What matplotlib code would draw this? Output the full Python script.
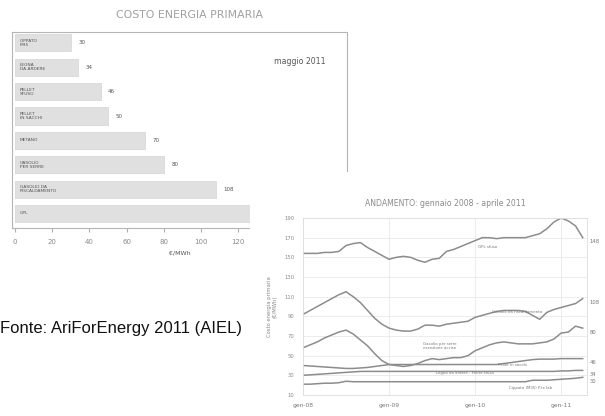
import numpy as np
import matplotlib
matplotlib.use("Agg")
import matplotlib.pyplot as plt
from matplotlib.patches import Rectangle

# ---------------- data: left bar chart (maggio 2011) ----------------
fuels = ["CIPPATO\nM35", "LEGNA\nDA ARDERE", "PELLET\nSFUSO", "PELLET\nIN SACCHI",
         "METANO", "GASOLIO\nPER SERRE", "GASOLIO DA\nRISCALDAMENTO", "GPL"]
costs = [30, 34, 46, 50, 70, 80, 108, 148]
bar_xticks = [0, 20, 40, 60, 80, 100, 120, 140, 160]

# ---------------- data: right line chart (gen 2008 - apr 2011, monthly) ----------------
months = np.arange(40)
month_ticks = [0, 12, 24, 36]
month_labels = ["gen-08", "gen-09", "gen-10", "gen-11"]

gpl = [154, 154, 154, 155, 155, 156, 162, 164, 165, 160, 156, 152,
       148, 150, 151, 150, 147, 145, 148, 149, 156, 158, 161, 164,
       167, 170, 170, 169, 170, 170, 170, 170, 172, 174, 179, 186,
       190, 187, 182, 170]
gas_risc = [92, 96, 100, 104, 108, 112, 115, 110, 104, 96, 88, 82,
            78, 76, 75, 75, 77, 81, 81, 80, 82, 83, 84, 85,
            89, 91, 93, 95, 96, 96, 96, 95, 91, 87, 94, 97,
            99, 101, 103, 108]
gas_serre = [58, 61, 64, 68, 71, 74, 76, 72, 66, 60, 52, 45,
             41, 40, 39, 40, 42, 45, 47, 46, 47, 48, 48, 50,
             55, 58, 61, 63, 64, 63, 62, 62, 62, 63, 64, 67,
             73, 74, 80, 78]
pellet = [40, 39.5, 39, 38.5, 38, 37.5, 37, 37, 37.5, 38, 39, 40,
          41, 41, 41, 41, 41, 41, 41, 41, 41, 41, 41, 41,
          41, 41, 41, 41, 42, 43, 44, 45, 46, 46.5, 46.5, 46.5,
          47, 47, 47, 47]
legna = [30, 30.5, 31, 31.5, 32, 32.5, 33, 33.5, 34, 34, 34, 34,
         34, 34, 34, 34, 34, 34, 34, 34, 34, 34, 34, 34,
         34, 34, 34, 34, 34, 34, 34, 34, 34, 34, 34, 34,
         34.5, 34.5, 35, 35]
cippato = [21, 21, 21.5, 22, 22, 22.5, 24, 23.5, 23.5, 23.5, 23.5, 23.5,
           23.5, 23.5, 23.5, 23.5, 23.5, 23.5, 23.5, 23.5, 23.5, 23.5, 23.5, 23.5,
           23.5, 23.5, 23.5, 23.5, 23.5, 23.5, 23.5, 23.5, 25, 25, 25, 25.5,
           26, 26.5, 27, 28]
series = [gpl, gas_risc, gas_serre, pellet, legna, cippato]
end_labels = ["148", "108", "80", "46", "34", "30"]
y_ticks = [10, 30, 50, 70, 90, 110, 130, 150, 170, 190]

W, H = 605, 416
fig = plt.figure(figsize=(W / 100, H / 100), dpi=100)
fig.patch.set_facecolor("white")

def fx(px):
    return px / W

def fy(py):
    return 1 - py / H

# ---------------- left chart ----------------
axL = fig.add_axes([fx(12), fy(228), fx(347) - fx(12), fy(32) - fy(228)], zorder=0)
ypos = np.arange(len(fuels))
axL.barh(ypos, costs, height=0.7, color="#e0e0e0", edgecolor="#d4d4d4", linewidth=0.5)
axL.set_xlim(-1.6, 178.5)
axL.set_ylim(7.6, -0.45)
axL.set_yticks([])
axL.set_xticks(bar_xticks)
axL.set_xticklabels([str(v) for v in bar_xticks], fontsize=5, color="#8a8a8a")
axL.tick_params(axis="x", length=3, color="#b0b0b0", pad=5)
for s in axL.spines.values():
    s.set_color("#b5b5b5")
    s.set_linewidth(0.8)
for y, c, name in zip(ypos, costs, fuels):
    axL.text(2.5, y, name, fontsize=3.2, color="#555555", va="center", ha="left",
             linespacing=1.1)
    axL.text(c + 4, y, str(c), fontsize=4, color="#555555", va="center", ha="left")
axL.set_xlabel("€/MWh", fontsize=4.5, color="#555555", labelpad=4)
axL.text(0.86, 0.85, "maggio 2011", transform=axL.transAxes, fontsize=5.6,
         color="#555555", ha="center", va="center")
fig.text(fx(190), fy(15), "COSTO ENERGIA PRIMARIA", fontsize=7.8, color="#a0a0a0",
         ha="center", va="center")

# ---------------- overlay white panel ----------------
fig.patches.append(Rectangle((fx(250), 0), 1 - fx(250), fy(172), transform=fig.transFigure,
                             facecolor="white", edgecolor="none", zorder=1))

# ---------------- right chart ----------------
axR = fig.add_axes([fx(303), fy(395), fx(587) - fx(303), fy(218) - fy(395)], zorder=2)
axR.set_facecolor("white")
for s_ in series:
    axR.plot(months, s_, color="#8c8c8c", linewidth=1.1)
axR.set_xlim(0, 39.6)
axR.set_ylim(10, 190)
axR.set_yticks(y_ticks)
axR.set_yticklabels([str(v) for v in y_ticks], fontsize=3.8, color="#8a8a8a")
axR.set_xticks(month_ticks)
axR.set_xticklabels(month_labels, fontsize=4.3, color="#777777")
axR.tick_params(length=0, pad=6)
axR.grid(True, color="#e9e9e9", linewidth=0.6)
for s in axR.spines.values():
    s.set_color("#dddddd")
    s.set_linewidth(0.6)
axR.set_ylabel("Costo energia primaria\n(€/MWh)", fontsize=3.8, color="#888888", labelpad=5)
axR.set_title("ANDAMENTO: gennaio 2008 - aprile 2011", fontsize=5.6, color="#8a8a8a", pad=9)

for s_, lab in zip(series, end_labels):
    axR.annotate(lab, (months[-1], s_[-1]), xytext=(5, -3), textcoords="offset points",
                 fontsize=3.8, color="#777777", va="center", ha="left", annotation_clip=False)

inline = [(25.8, 160.5, "GPL sfuso"),
          (29.8, 94.5, "Gasolio da riscaldamento"),
          (19.0, 60, "Gasolio per serre\nesenzione accise"),
          (22.6, 32.5, "Legna da ardere - Pellet sfuso"),
          (29.2, 40.5, "Pellet in sacchi"),
          (31.7, 17, "Cippato (M35) P.te lab")]
for x_, y_, t_ in inline:
    axR.text(x_, y_, t_, fontsize=2.8, color="#777777", ha="center", va="center",
             linespacing=1.2)

# ---------------- source note ----------------
fig.text(fx(0), fy(328), "Fonte: AriForEnergy 2011 (AIEL)", fontsize=12,
         family="Liberation Sans", color="#111111", ha="left", va="center")

fig.savefig("out.png", dpi=100, facecolor="white")
